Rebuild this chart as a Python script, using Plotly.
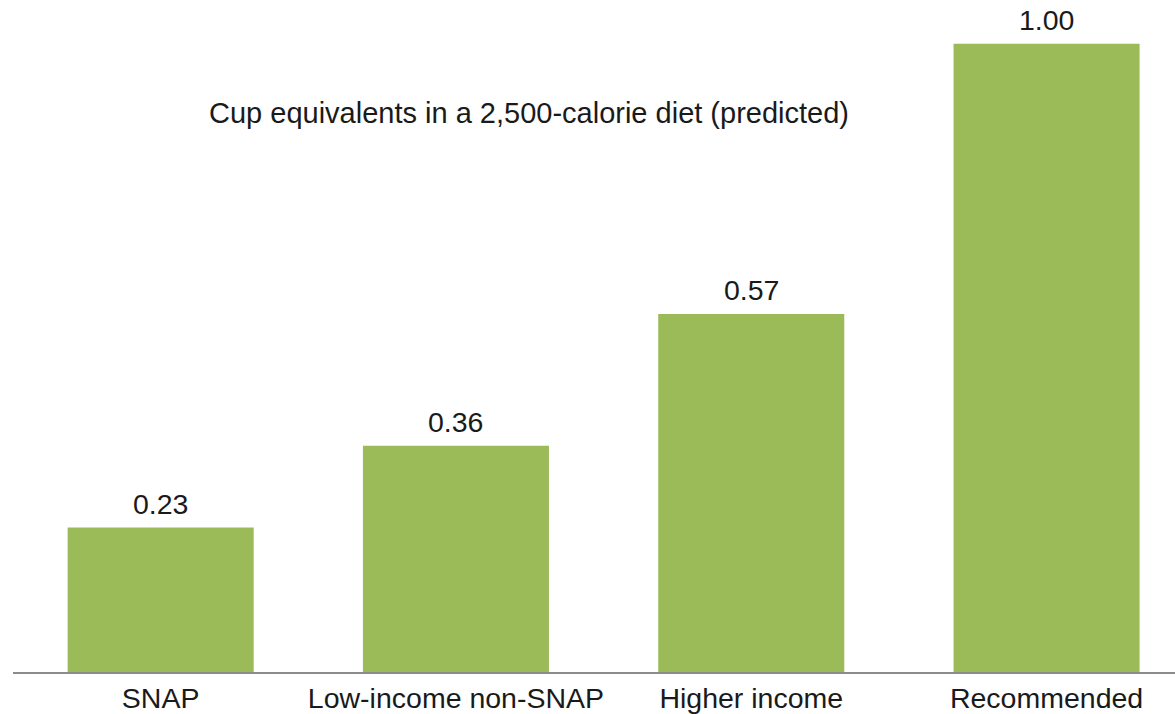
import plotly.graph_objects as go

categories = ["SNAP", "Low-income non-SNAP", "Higher income", "Recommended"]
values = [0.23, 0.36, 0.57, 1.00]
value_labels = ["0.23", "0.36", "0.57", "1.00"]
title_text = "Cup equivalents in a 2,500-calorie diet (predicted)"

FONT = "Liberation Sans, Arial, Helvetica, sans-serif"

fig = go.Figure()
fig.add_trace(go.Bar(
    x=categories, y=values,
    marker=dict(color="#9BBB59", line=dict(width=0)),
    width=0.63,
    hoverinfo="skip",
))

for c, v, t in zip(categories, values, value_labels):
    fig.add_annotation(x=c, y=v, text=t, showarrow=False, yanchor="bottom",
                       yshift=6, font=dict(family=FONT, size=28.5, color="#1a1a1a"))

fig.add_annotation(xref="paper", yref="paper", x=0.444, y=0.857, text=title_text,
                   showarrow=False, xanchor="center", yanchor="middle",
                   font=dict(family=FONT, size=29, color="#1a1a1a"))

fig.update_layout(
    width=1175, height=714,
    margin=dict(l=13, r=0, t=20, b=42),
    paper_bgcolor="white", plot_bgcolor="white",
    showlegend=False,
    xaxis=dict(range=[-0.5, -0.5 + 1162 / 295.3], showgrid=False, zeroline=False,
               showline=True, linecolor="#8c8c8c", linewidth=2, ticks="",
               tickfont=dict(family=FONT, size=28.5, color="#1a1a1a")),
    yaxis=dict(range=[0, 1.038], visible=False, showgrid=False, zeroline=False),
)

fig.write_html("out.html")
